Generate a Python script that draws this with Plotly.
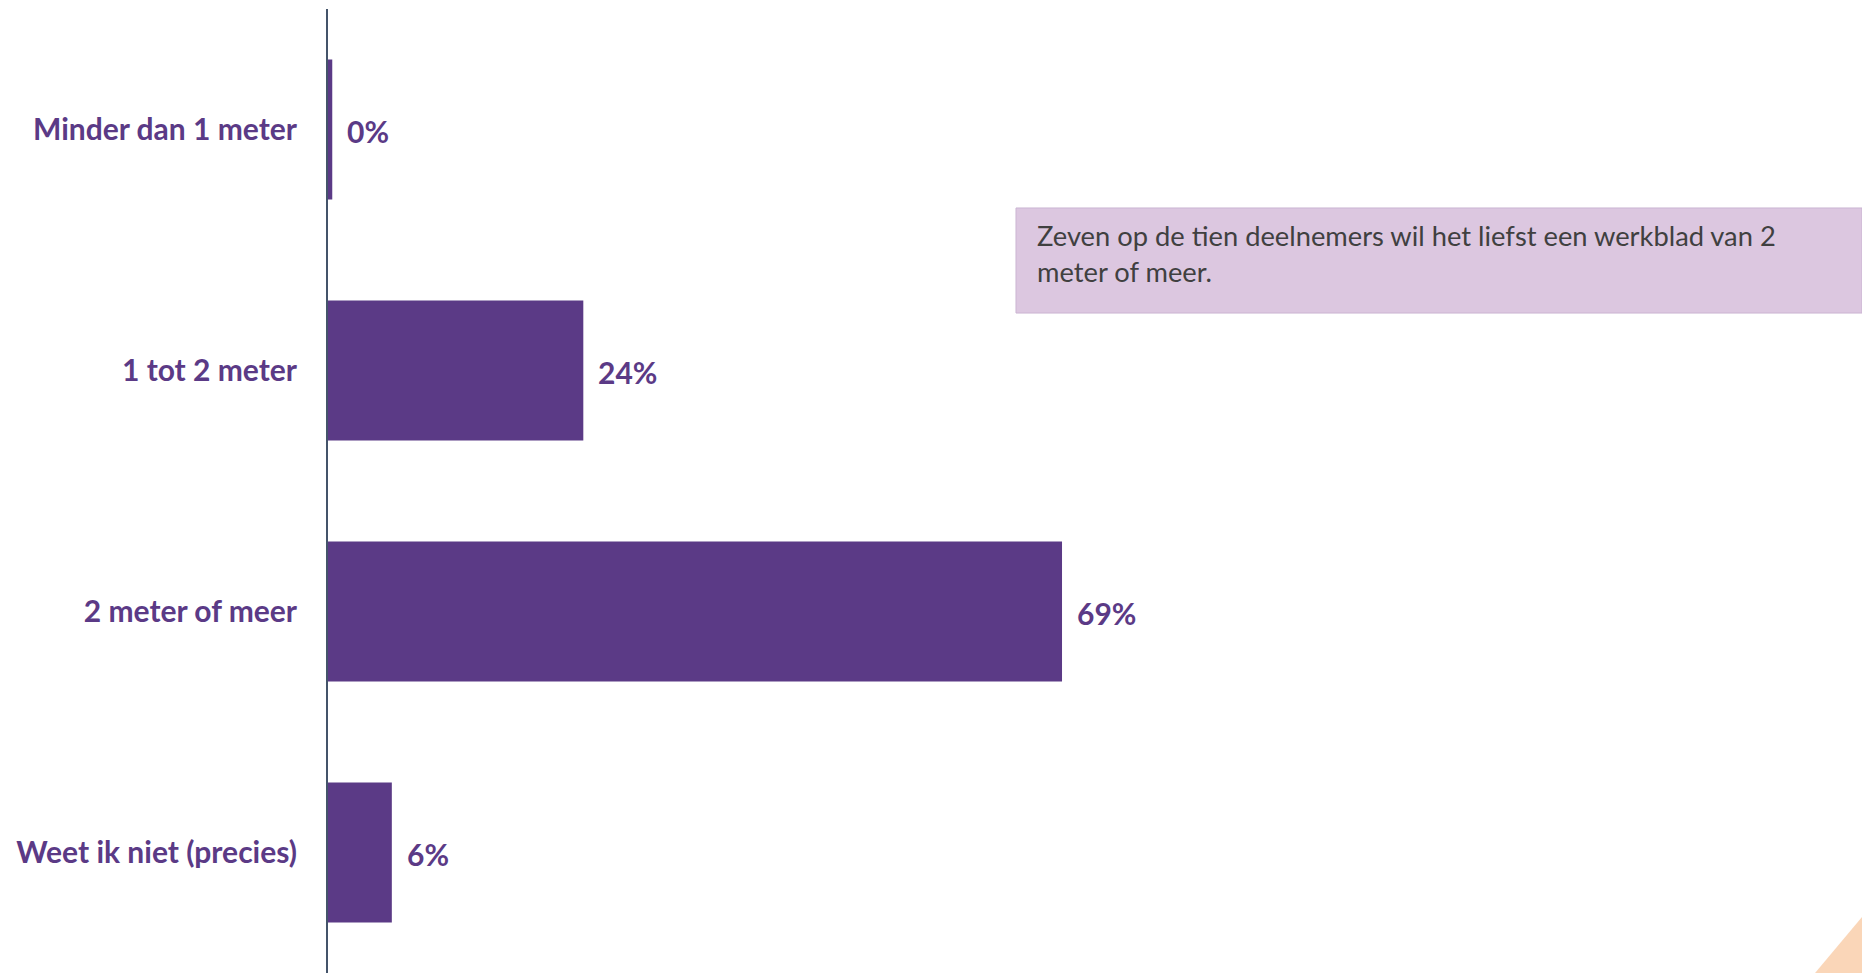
import plotly.graph_objects as go

# ==== Data ====
categories = ["Minder dan 1 meter", "1 tot 2 meter", "2 meter of meer", "Weet ik niet (precies)"]
values = [0.4, 24, 69, 6]
value_labels = ["0%", "24%", "69%", "6%"]
note_lines = ["Zeven op de tien deelnemers wil het liefst een werkblad van 2", "meter of meer."]

purple = "#5B3A86"

fig = go.Figure(go.Bar(
    x=values,
    y=categories,
    orientation="h",
    width=0.58,
    marker=dict(color=purple, line=dict(width=0)),
    hoverinfo="skip",
))

# value labels right of the bars
for cat, v, lab in zip(categories, values, value_labels):
    fig.add_annotation(
        x=v, y=cat, text=lab, showarrow=False,
        xanchor="left", xshift=13, yshift=-1,
        font=dict(family="Lato", size=30, color=purple, weight="bold"),
    )

# callout box
fig.add_shape(type="rect", xref="paper", yref="paper",
              x0=0.4485, x1=1.0, y0=0.6846, y1=0.7936,
              fillcolor="#DCC7E0", line=dict(color="#CBB5D2", width=1), layer="below")
for i, line in enumerate(note_lines):
    fig.add_annotation(
        xref="paper", yref="paper", x=0.461, y=0.7655 - i * 0.0373,
        text=line, showarrow=False, xanchor="left", yanchor="middle",
        font=dict(family="Lato", size=27.3, color="#404040"),
    )

# peach corner triangle
fig.add_shape(type="path", xref="paper", yref="paper",
              path="M 0.9694 0 L 1.0 0.058 L 1.0 0 Z",
              fillcolor="#FAD6B8", line=dict(width=0))

fig.update_layout(
    width=1862, height=973,
    margin=dict(l=328, r=0, t=9, b=0),
    plot_bgcolor="white",
    paper_bgcolor="white",
    showlegend=False,
    bargap=0.42,
    xaxis=dict(range=[0, 144.2], visible=False, fixedrange=True),
    yaxis=dict(
        type="category",
        range=[3.5, -0.5],
        showline=True, linecolor="#44546A", linewidth=2,
        showgrid=False, zeroline=False, ticks="",
        ticklabelstandoff=23,
        tickfont=dict(family="Lato", size=30, color=purple, weight="bold"),
        fixedrange=True,
    ),
)

fig.write_html("out.html", config={"displayModeBar": False},
               post_script="document.body.style.margin='0';document.body.style.overflow='hidden';")
